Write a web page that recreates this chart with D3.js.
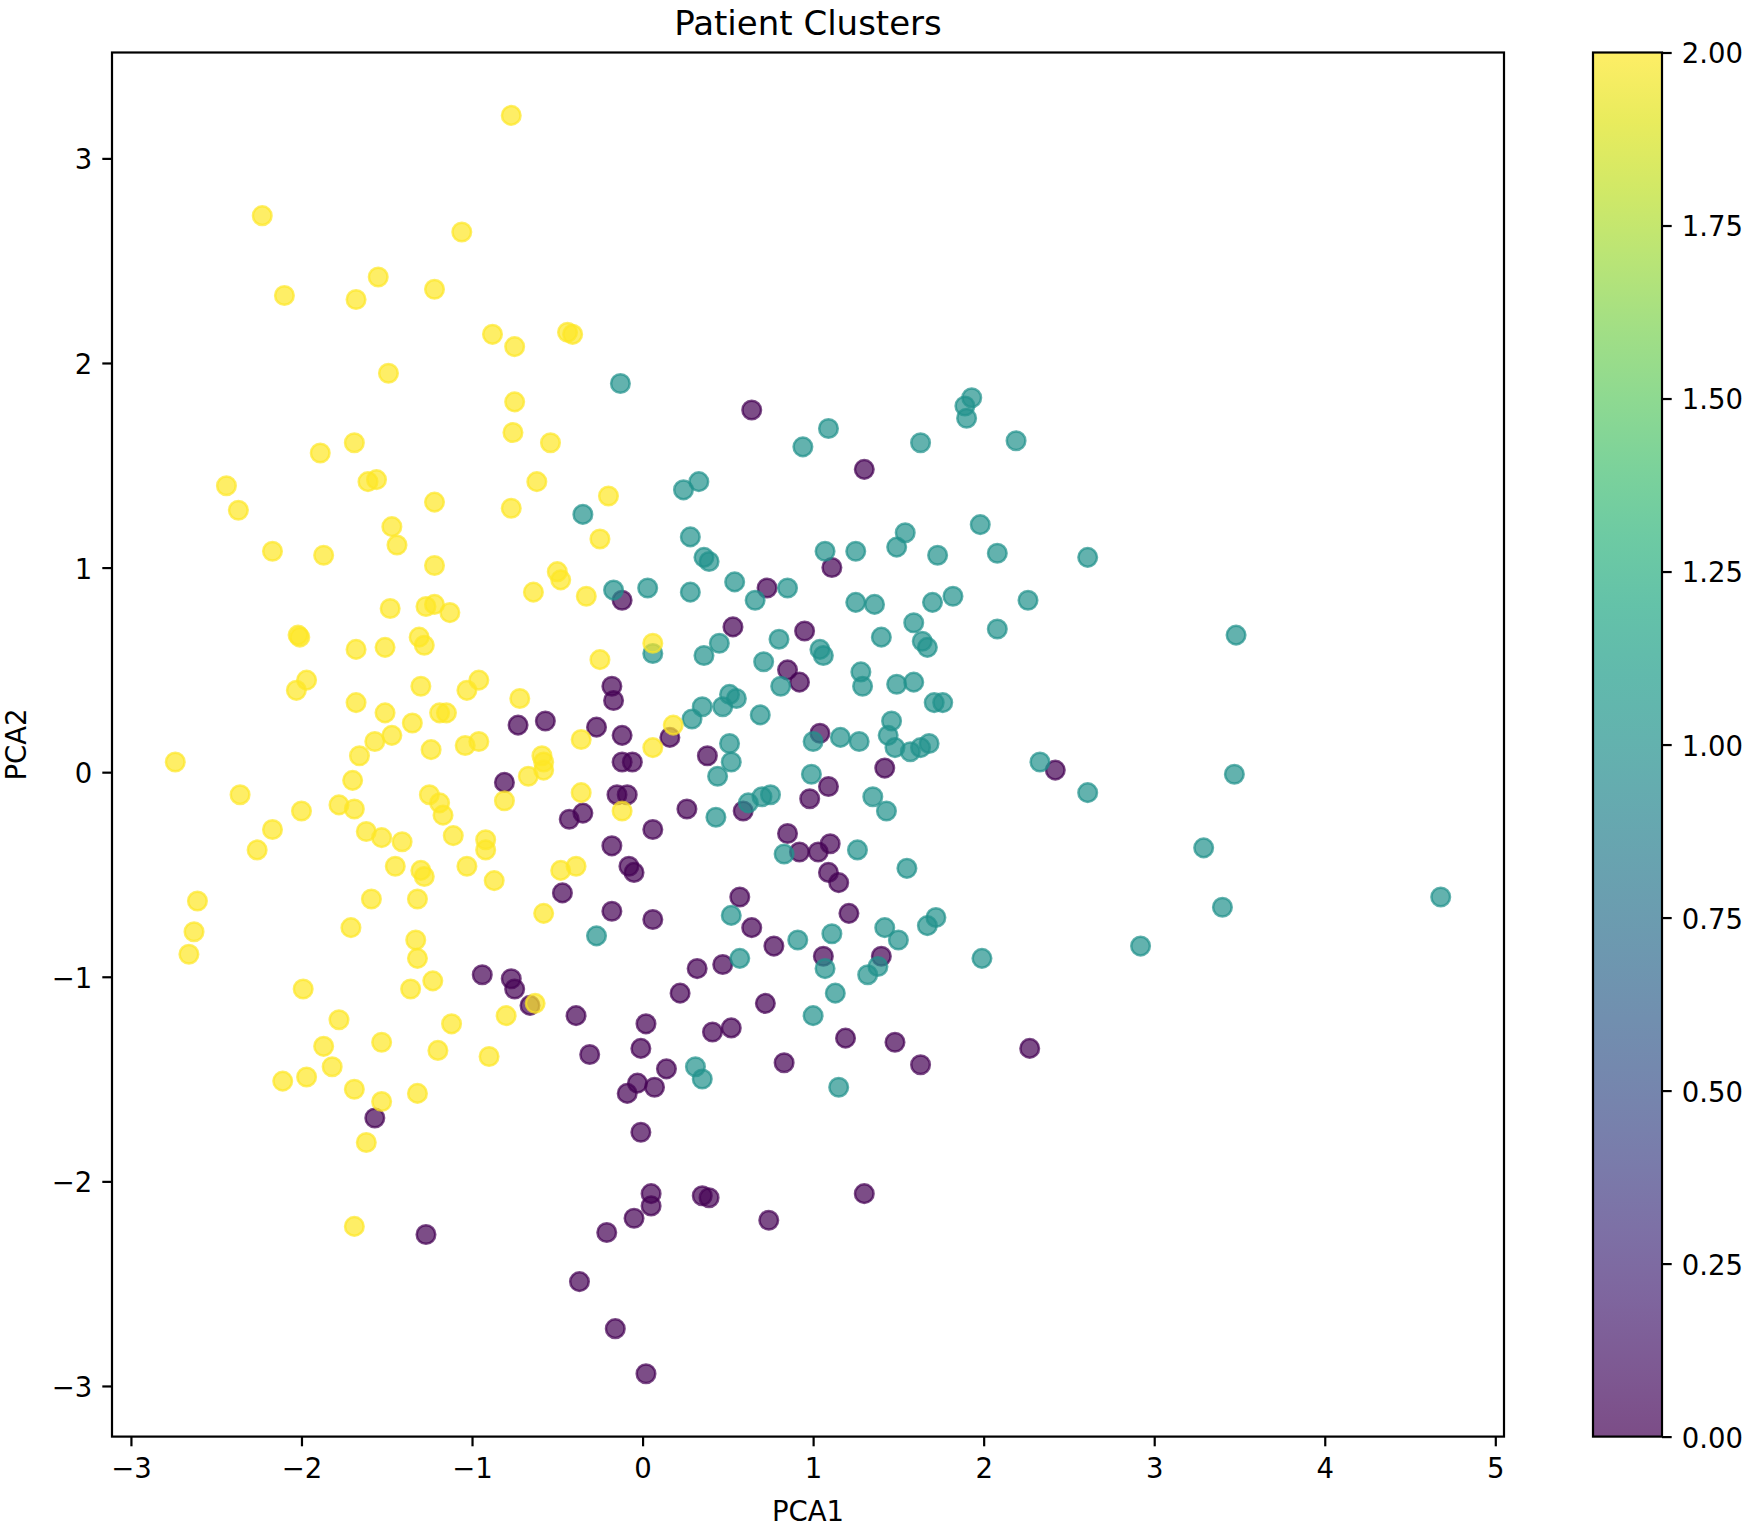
<!DOCTYPE html>
<html>
<head>
<meta charset="utf-8">
<style>
    body { margin: 0; background: #fff; }
    text { font-family: "DejaVu Sans", sans-serif; fill: #000; }
</style>
</head>
<body>
<script src="https://d3js.org/d3.v7.min.js"></script>
<script>
const width = 1753;
const height = 1529;
const plot = {left: 112, right: 1504, top: 52.5, bottom: 1436.6};
const bar = {left: 1593, right: 1662};
const fs = 27.5;     // 10pt tick labels
const lw = 2.2;      // spine / tick width
const tickLen = 9.7;

// PCA coordinates per cluster
const cluster0 = [
    [0.64,1.77],[1.30,1.48],[1.11,1.00],[0.73,0.90],[-0.12,0.84],[0.53,0.71],[0.95,0.69],[-0.18,0.42],
    [0.85,0.50],[0.92,0.44],[-0.17,0.35],[-0.57,0.25],[-0.73,0.23],[-0.27,0.22],[0.16,0.17],[-0.12,0.18],
    [1.04,0.19],[0.38,0.08],[-0.12,0.05],[-0.06,0.05],[1.42,0.02],[2.42,0.01],[-0.81,-0.05],[1.09,-0.07],
    [-0.15,-0.11],[-0.09,-0.11],[0.26,-0.18],[0.59,-0.19],[0.98,-0.13],[-0.35,-0.20],[-0.43,-0.23],[0.06,-0.28],
    [0.85,-0.30],[-0.18,-0.36],[0.92,-0.39],[1.03,-0.39],[1.10,-0.35],[1.09,-0.49],[1.15,-0.54],[-0.08,-0.46],
    [-0.05,-0.49],[-0.47,-0.59],[0.57,-0.61],[-0.18,-0.68],[0.06,-0.72],[0.64,-0.76],[1.21,-0.69],[0.77,-0.85],
    [1.06,-0.90],[-0.94,-0.99],[-0.77,-1.01],[-0.75,-1.06],[0.32,-0.96],[0.47,-0.94],[1.40,-0.90],[0.22,-1.08],
    [0.72,-1.13],[-0.66,-1.14],[-0.39,-1.19],[0.02,-1.23],[0.41,-1.27],[0.52,-1.25],[1.19,-1.30],[1.48,-1.32],
    [2.27,-1.35],[-0.31,-1.38],[-0.01,-1.35],[0.83,-1.42],[1.63,-1.43],[0.14,-1.45],[0.07,-1.54],[-0.03,-1.52],
    [-0.09,-1.57],[-1.57,-1.69],[-0.01,-1.76],[0.05,-2.06],[0.35,-2.07],[0.39,-2.08],[1.30,-2.06],[0.05,-2.12],
    [-0.05,-2.18],[0.74,-2.19],[-1.27,-2.26],[-0.21,-2.25],[-0.37,-2.49],[-0.16,-2.72],[0.02,-2.94]
];
const cluster1 = [
    [-0.13,1.90],[1.93,1.83],[1.89,1.79],[1.90,1.73],[1.09,1.68],[0.94,1.59],[1.63,1.61],[2.19,1.62],
    [0.24,1.38],[0.33,1.42],[-0.35,1.26],[1.54,1.17],[1.98,1.21],[0.28,1.15],[0.36,1.05],[0.39,1.03],
    [1.07,1.08],[1.25,1.08],[1.49,1.10],[1.73,1.06],[2.08,1.07],[2.61,1.05],[-0.17,0.89],[0.03,0.90],
    [0.28,0.88],[0.54,0.93],[0.66,0.84],[0.85,0.90],[1.25,0.83],[1.36,0.82],[1.82,0.86],[1.70,0.83],
    [2.26,0.84],[1.59,0.73],[3.48,0.67],[2.08,0.70],[0.80,0.65],[0.45,0.63],[0.36,0.57],[0.06,0.58],
    [1.04,0.60],[1.06,0.57],[1.40,0.66],[1.64,0.64],[1.67,0.61],[0.71,0.54],[1.28,0.49],[0.81,0.42],
    [1.29,0.42],[1.49,0.43],[1.59,0.44],[1.71,0.34],[1.76,0.34],[0.51,0.38],[0.55,0.36],[0.47,0.32],
    [0.35,0.32],[0.29,0.26],[0.69,0.28],[1.46,0.25],[1.00,0.15],[1.16,0.17],[1.27,0.15],[1.44,0.18],
    [0.51,0.14],[1.48,0.12],[1.57,0.10],[1.63,0.12],[1.68,0.14],[0.52,0.05],[2.33,0.05],[0.99,-0.01],
    [3.47,-0.01],[0.44,-0.02],[2.61,-0.10],[0.75,-0.11],[0.70,-0.12],[0.62,-0.15],[1.35,-0.12],[1.43,-0.19],
    [0.43,-0.22],[1.26,-0.38],[0.83,-0.40],[3.29,-0.37],[1.55,-0.47],[4.68,-0.61],[3.40,-0.66],[0.52,-0.70],
    [1.42,-0.76],[1.67,-0.75],[1.72,-0.71],[-0.27,-0.80],[1.11,-0.79],[0.91,-0.82],[1.50,-0.82],[2.92,-0.85],
    [0.57,-0.91],[1.99,-0.91],[1.07,-0.96],[1.38,-0.95],[1.32,-0.99],[1.13,-1.08],[1.00,-1.19],[0.31,-1.44],
    [0.35,-1.50],[1.15,-1.54]
];
const cluster2 = [
    [-0.77,3.21],[-2.23,2.72],[-1.06,2.64],[-2.10,2.33],[-1.68,2.31],[-1.55,2.42],[-1.22,2.36],[-0.88,2.14],
    [-0.75,2.08],[-0.44,2.15],[-0.41,2.14],[-1.49,1.95],[-0.75,1.81],[-0.76,1.66],[-1.69,1.61],[-1.89,1.56],
    [-0.54,1.61],[-2.44,1.40],[-2.37,1.28],[-1.61,1.42],[-1.56,1.43],[-0.62,1.42],[-0.20,1.35],[-1.22,1.32],
    [-0.77,1.29],[-1.47,1.20],[-0.25,1.14],[-1.44,1.11],[-2.17,1.08],[-1.87,1.06],[-1.22,1.01],[-0.50,0.98],
    [-0.48,0.94],[-0.64,0.88],[-0.33,0.86],[-1.48,0.80],[-1.27,0.81],[-1.22,0.82],[-1.13,0.78],[-2.02,0.67],
    [-2.01,0.66],[-1.68,0.60],[-1.51,0.61],[-1.31,0.66],[-1.28,0.62],[0.06,0.63],[-0.25,0.55],[-1.97,0.45],
    [-2.03,0.40],[-1.30,0.42],[-0.96,0.45],[-1.03,0.40],[-0.72,0.36],[-1.68,0.34],[-1.51,0.29],[-1.19,0.29],
    [-1.15,0.29],[-1.35,0.24],[0.18,0.23],[-1.47,0.18],[-1.57,0.15],[-1.66,0.08],[-1.24,0.11],[-1.04,0.13],
    [-0.96,0.15],[-0.59,0.08],[-0.58,0.05],[-0.58,0.01],[-0.36,0.16],[0.06,0.12],[-2.74,0.05],[-1.70,-0.04],
    [-0.67,-0.02],[-0.81,-0.14],[-2.36,-0.11],[-1.25,-0.11],[-1.78,-0.16],[-1.69,-0.18],[-1.19,-0.15],[-1.17,-0.21],
    [-2.00,-0.19],[-0.36,-0.10],[-2.17,-0.28],[-1.62,-0.29],[-1.53,-0.32],[-1.41,-0.34],[-1.11,-0.31],[-0.92,-0.33],
    [-0.92,-0.38],[-2.26,-0.38],[-0.12,-0.19],[-1.03,-0.46],[-1.45,-0.46],[-1.30,-0.48],[-1.28,-0.51],[-0.48,-0.48],
    [-0.39,-0.46],[-0.87,-0.53],[-2.61,-0.63],[-1.59,-0.62],[-1.32,-0.62],[-0.58,-0.69],[-2.63,-0.78],[-1.71,-0.76],
    [-2.66,-0.89],[-1.33,-0.82],[-1.32,-0.91],[-1.23,-1.02],[-1.36,-1.06],[-1.99,-1.06],[-1.12,-1.23],[-1.78,-1.21],
    [-0.80,-1.19],[-0.63,-1.13],[-1.87,-1.34],[-1.53,-1.32],[-1.20,-1.36],[-0.90,-1.39],[-1.82,-1.44],[-2.11,-1.51],
    [-1.97,-1.49],[-1.69,-1.55],[-1.53,-1.61],[-1.32,-1.57],[-1.62,-1.81],[-1.69,-2.22]
];
const clusters = [cluster0, cluster1, cluster2];

const xTicks = [-3, -2, -1, 0, 1, 2, 3, 4, 5];
const yTicks = [-3, -2, -1, 0, 1, 2, 3];
const barTicks = [0, 0.25, 0.5, 0.75, 1, 1.25, 1.5, 1.75, 2];

const points = clusters.flatMap((c, k) => c.map(d => ({x: d[0], y: d[1], label: k})));

// matplotlib style 5% margins
function padded(ext) {
    const m = (ext[1] - ext[0]) * 0.05;
    return [ext[0] - m, ext[1] + m];
}
const x = d3.scaleLinear().domain(padded(d3.extent(points, d => d.x))).range([plot.left, plot.right]);
const y = d3.scaleLinear().domain(padded(d3.extent(points, d => d.y))).range([plot.bottom, plot.top]);
const color = d3.scaleSequential(d3.interpolateViridis).domain([0, 2]);
const yBar = d3.scaleLinear().domain([0, 2]).range([plot.bottom, plot.top]);

const svg = d3.select("body").append("svg").attr("width", width).attr("height", height);

// points
svg.append("g").selectAll("circle")
    .data(points).enter().append("circle")
    .attr("cx", d => x(d.x))
    .attr("cy", d => y(d.y))
    .attr("r", 9.3)
    .attr("fill", d => color(d.label))
    .attr("fill-opacity", 0.7)
    .attr("stroke", d => color(d.label))
    .attr("stroke-opacity", 0.7)
    .attr("stroke-width", 2.5);

function styleAxis(g) {
    g.select(".domain").remove();
    g.selectAll(".tick line").attr("stroke", "#000").attr("stroke-width", lw);
    g.selectAll(".tick text").attr("fill", "#000")
        .style("font-family", '"DejaVu Sans", sans-serif').style("font-size", fs + "px");
}

svg.append("g")
    .attr("transform", `translate(0,${plot.bottom})`)
    .call(d3.axisBottom(x).tickValues(xTicks).tickFormat(d3.format("d"))
        .tickSize(tickLen).tickSizeOuter(0).tickPadding(12))
    .call(styleAxis);

svg.append("g")
    .attr("transform", `translate(${plot.left},0)`)
    .call(d3.axisLeft(y).tickValues(yTicks).tickFormat(d3.format("d"))
        .tickSize(tickLen).tickSizeOuter(0).tickPadding(10))
    .call(styleAxis)
    .selectAll(".tick text").attr("dy", "0.38em");

svg.append("rect")
    .attr("x", plot.left).attr("y", plot.top)
    .attr("width", plot.right - plot.left).attr("height", plot.bottom - plot.top)
    .attr("fill", "none").attr("stroke", "#000").attr("stroke-width", lw);

// title and labels
svg.append("text")
    .attr("x", (plot.left + plot.right) / 2).attr("y", 35)
    .attr("text-anchor", "middle").style("font-size", "34px")
    .text("Patient Clusters");

svg.append("text")
    .attr("x", (plot.left + plot.right) / 2).attr("y", 1521)
    .attr("text-anchor", "middle").style("font-size", fs + "px")
    .text("PCA1");

svg.append("text")
    .attr("transform", `translate(26,${(plot.top + plot.bottom) / 2}) rotate(-90)`)
    .attr("text-anchor", "middle").style("font-size", fs + "px")
    .text("PCA2");

// colorbar
const grad = svg.append("defs").append("linearGradient")
    .attr("id", "viridis").attr("x1", 0).attr("y1", 1).attr("x2", 0).attr("y2", 0);
grad.selectAll("stop").data(d3.range(0, 1.0001, 0.05)).enter().append("stop")
    .attr("offset", d => d)
    .attr("stop-color", d => d3.interpolateViridis(d));

svg.append("rect")
    .attr("x", bar.left).attr("y", plot.top)
    .attr("width", bar.right - bar.left).attr("height", plot.bottom - plot.top)
    .attr("fill", "url(#viridis)").attr("fill-opacity", 0.7);

svg.append("g")
    .attr("transform", `translate(${bar.right},0)`)
    .call(d3.axisRight(yBar).tickValues(barTicks).tickFormat(d3.format(".2f"))
        .tickSize(tickLen).tickSizeOuter(0).tickPadding(10))
    .call(styleAxis)
    .selectAll(".tick text").attr("dy", "0.38em");

svg.append("rect")
    .attr("x", bar.left).attr("y", plot.top)
    .attr("width", bar.right - bar.left).attr("height", plot.bottom - plot.top)
    .attr("fill", "none").attr("stroke", "#000").attr("stroke-width", lw);
</script>
</body>
</html>
